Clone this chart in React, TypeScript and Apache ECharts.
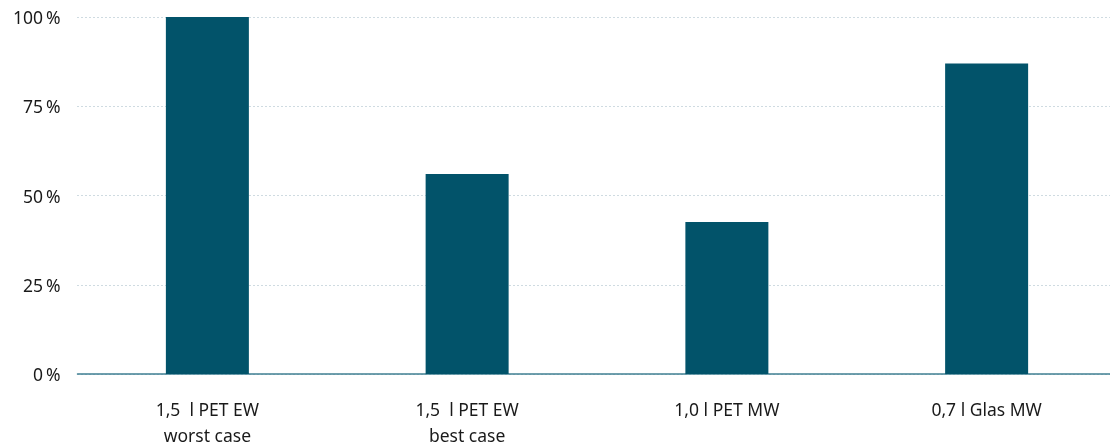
import React, { useEffect, useRef } from "react";
import * as echarts from "echarts";

const categories = ["1,5  l PET EW\nworst case", "1,5  l PET EW\nbest case", "1,0 l PET MW", "0,7 l Glas MW"];
const values = [100, 56, 42.6, 87];
const yTicks = [0, 25, 50, 75, 100];

export default function App() {
  const ref = useRef<HTMLDivElement>(null);

  useEffect(() => {
    if (!ref.current) return;
    const chart = echarts.init(ref.current, undefined, { renderer: "svg" });
    chart.setOption({
      animation: false,
      textStyle: { fontFamily: "Noto Sans" },
      grid: { left: 77.5, width: 1039, top: 17, height: 359 },
      xAxis: {
        type: "category",
        data: categories,
        axisLine: { lineStyle: { color: "#3f7f92", width: 1.5 } },
        axisTick: { show: false },
        axisLabel: {
          color: "#1a1a1a",
          fontSize: 17.5,
          lineHeight: 26,
          margin: 22,
          interval: 0,
        },
      },
      yAxis: {
        type: "value",
        min: yTicks[0],
        max: yTicks[yTicks.length - 1],
        interval: 25,
        axisLine: { show: false },
        axisTick: { show: false },
        axisLabel: {
          color: "#1a1a1a",
          fontSize: 17.5,
          margin: 17,
          formatter: (v: number) => `${v}\u2009%`,
        },
        splitLine: {
          lineStyle: { color: "#9fb6c3", type: [1, 3], width: 1 },
        },
      },
      series: [
        {
          type: "bar",
          data: values,
          barWidth: 83,
          itemStyle: { color: "#02536a" },
        },
      ],
    });
    return () => chart.dispose();
  }, []);

  return (
    <div
      style={{
        position: "fixed",
        left: 0,
        top: 0,
        width: 1110,
        height: 448,
        overflow: "hidden",
      }}
    >
      <div ref={ref} style={{ width: 1120, height: 448 }} />
    </div>
  );
}
